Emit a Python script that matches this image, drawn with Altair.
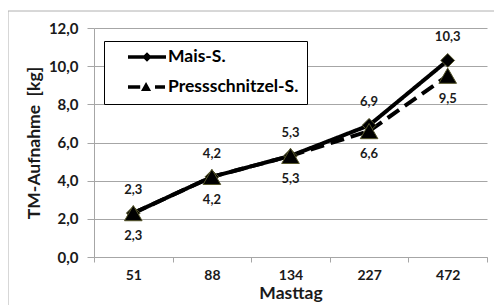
import altair as alt
import pandas as pd

days = ["51", "88", "134", "227", "472"]
mais = [2.3, 4.2, 5.3, 6.9, 10.3]
press = [2.3, 4.2, 5.3, 6.6, 9.5]
series = ["Mais-S.", "Pressschnitzel-S."]
y_ticks = [0, 2, 4, 6, 8, 10, 12]

rows = []
for d, m, p in zip(days, mais, press):
    rows.append({"Masttag": d, "value": m, "series": series[0]})
    rows.append({"Masttag": d, "value": p, "series": series[1]})
df = pd.DataFrame(rows)
df["leg"] = df["series"]

FONT = "Lato"
GRAY = "#a6a6a6"

x = alt.X("Masttag:N", sort=days, title="Masttag",
          scale=alt.Scale(type="band", paddingInner=0, paddingOuter=0),
          axis=alt.Axis(labelAngle=0, tickBand="extent", grid=False,
                        domainColor=GRAY, tickColor=GRAY, tickSize=5,
                        labelPadding=6, titlePadding=2,
                        labelFont=FONT, labelFontSize=14, labelFontWeight="bold",
                        labelColor="#1a1a1a",
                        titleFont=FONT, titleFontSize=17.5, titleFontWeight="bold",
                        titleColor="#1a1a1a"))
y = alt.Y("value:Q", title="TM-Aufnahme\u00a0 [kg]",
          scale=alt.Scale(domain=[0, 12], nice=False, zero=True),
          axis=alt.Axis(values=y_ticks, grid=True, gridColor=GRAY,
                        domainColor=GRAY, tickColor=GRAY, tickSize=7,
                        labelPadding=9, titlePadding=5,
                        labelExpr="replace(format(datum.value, '.1f'), '.', ',')",
                        labelFont=FONT, labelFontSize=15, labelFontWeight="bold",
                        labelColor="#1a1a1a",
                        titleFont=FONT, titleFontSize=17.5, titleFontWeight="bold",
                        titleColor="#1a1a1a"))

base = alt.Chart(df)

one = pd.DataFrame({"a": [0]})
border_top = alt.Chart(one).mark_rule(color="#b0b0b0", strokeWidth=1).encode(
    x=alt.value(-86), x2=alt.value(400), y=alt.value(-17))
border_left = alt.Chart(one).mark_rule(color="#b0b0b0", strokeWidth=1).encode(
    x=alt.value(-86), y=alt.value(-17), y2=alt.value(277))

lines = base.mark_line(color="black", strokeWidth=4).encode(
    x=x, y=y, detail="series:N",
    strokeDash=alt.StrokeDash("series:N", scale=alt.Scale(domain=series, range=[[1, 0], [14, 7]]), legend=None),
)

points = base.mark_point(filled=True, color="black", stroke="#55552a", strokeWidth=1, opacity=1).encode(
    x=x, y=y,
    shape=alt.Shape("series:N", scale=alt.Scale(domain=series, range=["diamond", "triangle-up"]), legend=None),
    size=alt.Size("series:N", scale=alt.Scale(domain=series, range=[190, 310]), legend=None),
)

label_expr = "replace(format(datum.value, '.1f'), '.', ',')"
txt_top = base.transform_filter(alt.datum.series == series[0]).transform_calculate(
    lab=label_expr).mark_text(dy=-23, font=FONT, fontSize=13, fontWeight="bold", color="#1a1a1a").encode(
    x=x, y=y, text="lab:N")
txt_bot = base.transform_filter(alt.datum.series == series[1]).transform_calculate(
    lab=label_expr).mark_text(dy=23, font=FONT, fontSize=13, fontWeight="bold", color="#1a1a1a").encode(
    x=x, y=y, text="lab:N")

h = 0.22
mais_sym = (f"M-2.375,-{h}L2.375,-{h}L2.375,{h}L-2.375,{h}Z"
            "M-0.6,0L0,-0.6L0.6,0L0,0.6Z")
press_sym = (f"M-2.375,-{h}L-0.85,-{h}L-0.85,{h}L-2.375,{h}Z"
             "M-0.75,0.5L-0.12,-0.62L0.51,0.5Z"
             f"M1.0,-{h}L2.25,-{h}L2.25,{h}L1.0,{h}Z")

legend_layer = base.mark_point(filled=True, opacity=0, color="black", size=256).encode(
    x=x, y=y,
    shape=alt.Shape("leg:N", scale=alt.Scale(domain=series, range=[mais_sym, press_sym]),
                    legend=alt.Legend(title=None, orient="none", legendX=10, legendY=13,
                                      strokeColor="black", fillColor="white", padding=8,
                                      symbolOffset=26, symbolSize=256,
                                      symbolFillColor="black", symbolOpacity=1,
                                      clipHeight=16,
                                      labelFont=FONT, labelFontSize=17.5, labelFontWeight="bold",
                                      labelColor="black", labelOffset=12, rowPadding=12,
                                      labelExpr="datum.label + '\u2003\u2003'")),
)

chart = alt.layer(border_top, border_left, lines, points, txt_top, txt_bot, legend_layer).resolve_scale(
    shape="independent"
).properties(
    width=393, height=229,
    autosize=alt.AutoSizeParams(type="none"),
    padding={"left": 86, "top": 20, "right": 7, "bottom": 48},
).configure_view(stroke=None)

chart.save("out.html", embed_options={"renderer": "svg", "actions": False})
